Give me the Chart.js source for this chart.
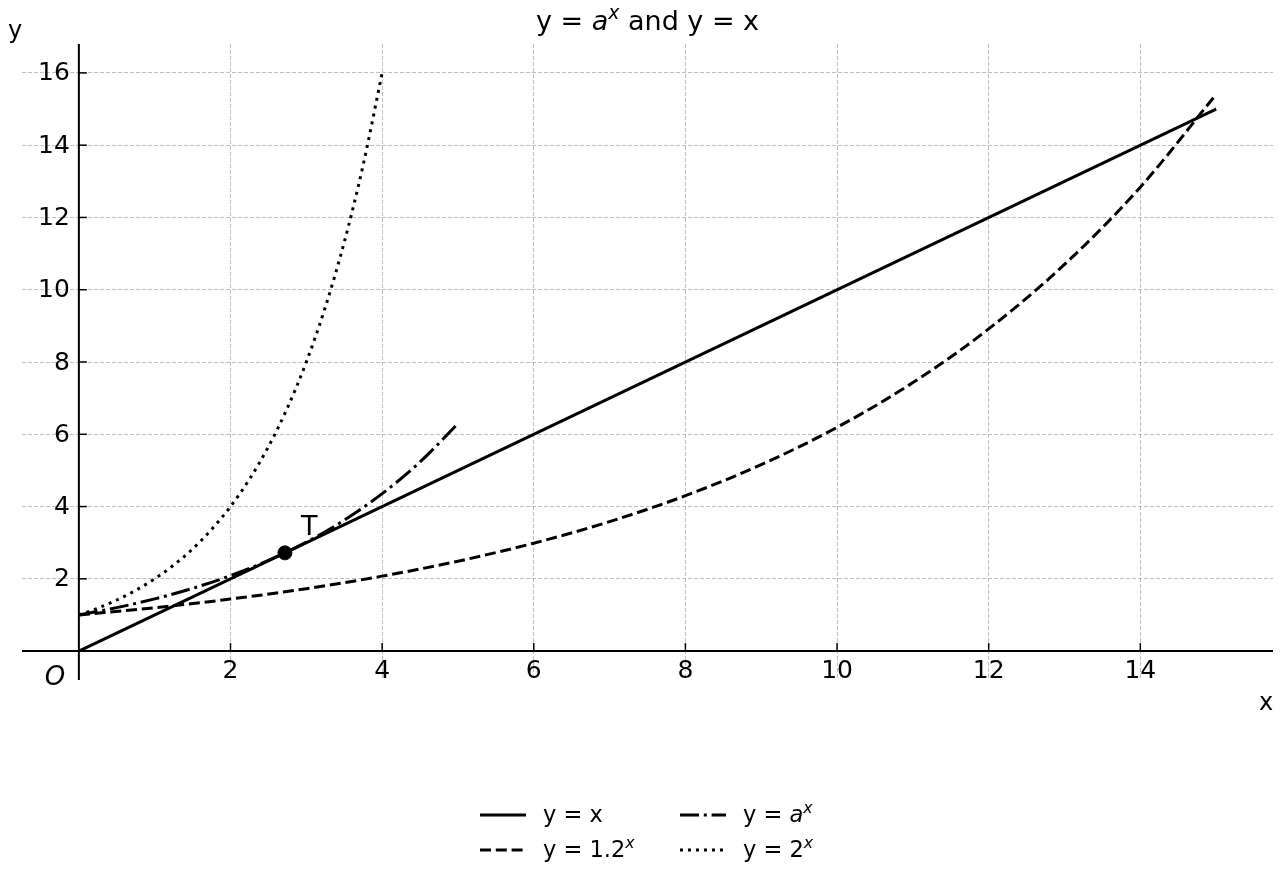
<!DOCTYPE html>
<html lang="en">
<head>
<meta charset="UTF-8">
<title>y = a^x and y = x</title>
<script src="https://cdn.jsdelivr.net/npm/chart.js@4.4.0/dist/chart.umd.min.js"></script>
<style>
  html, body { margin: 0; padding: 0; background: #fff; }
  canvas { display: block; }
</style>
</head>
<body>
<canvas id="chart" width="1280" height="880"></canvas>
<script>
// data
const lineX = [0, 15];
const lineY = [0, 15];

const pow12X = [0, 1, 2, 3, 4, 5, 6, 7, 8, 9, 10, 11, 12, 13, 14, 15];
const pow12Y = [1, 1.2, 1.44, 1.728, 2.074, 2.488, 2.986, 3.583, 4.3, 5.16, 6.192, 7.43, 8.916, 10.699, 12.839, 15.407];

const powAX = [0, 0.5, 1, 1.5, 2, 2.5, 3, 3.5, 4, 4.5, 5];
const powAY = [1, 1.202, 1.445, 1.736, 2.087, 2.508, 3.015, 3.624, 4.356, 5.236, 6.293];

const pow2X = [0, 0.25, 0.5, 0.75, 1, 1.25, 1.5, 1.75, 2, 2.25, 2.5, 2.75, 3, 3.25, 3.5, 3.75, 4];
const pow2Y = [1, 1.189, 1.414, 1.682, 2, 2.378, 2.828, 3.364, 4, 4.757, 5.657, 6.727, 8, 9.514, 11.314, 13.454, 16];

const pointT = [2.718, 2.718];
const labelT = [3.04, 3.4];

const xTicks = [2, 4, 6, 8, 10, 12, 14];
const yTicks = [2, 4, 6, 8, 10, 12, 14, 16];
const xLimits = [-0.75, 15.75];
const yLimits = [-0.8, 16.8];

// label pieces: [text, italic, superscript]
const titleParts = [['y = ', false, false], ['a', true, false], ['x', true, true], [' and y = x', false, false]];
const legendParts = [
  [['y = x', false, false]],
  [['y = 1.2', false, false], ['x', true, true]],
  [['y = ', false, false], ['a', true, false], ['x', true, true]],
  [['y = 2', false, false], ['x', true, true]]
];

const FONT = '"DejaVu Sans", sans-serif';

function pts(xs, ys) {
  return xs.map((x, i) => ({ x: x, y: ys[i] }));
}

function partsWidth(ctx, parts, size) {
  let w = 0;
  parts.forEach(p => {
    const s = p[2] ? size * 0.7 : size;
    ctx.font = (p[1] ? 'oblique ' : '') + s + 'px ' + FONT;
    w += ctx.measureText(p[0]).width;
  });
  return w;
}

function drawParts(ctx, parts, x, y, size) {
  ctx.textAlign = 'left';
  ctx.textBaseline = 'alphabetic';
  parts.forEach(p => {
    const s = p[2] ? size * 0.7 : size;
    ctx.font = (p[1] ? 'oblique ' : '') + s + 'px ' + FONT;
    const dy = p[2] ? -size * 0.42 : 0;
    ctx.fillText(p[0], x, y + dy);
    x += ctx.measureText(p[0]).width;
  });
}

const lineStyle = {
  fill: false,
  pointRadius: 0,
  showLine: true,
  borderColor: '#000',
  borderWidth: 3,
  cubicInterpolationMode: 'monotone',
  borderCapStyle: 'butt'
};

const dashes = [[], [11, 4.8], [19, 4.8, 3, 4.8], [3, 5]];

const decor = {
  id: 'decor',
  afterDraw(chart) {
    const ctx = chart.ctx;
    const xs = chart.scales.x, ys = chart.scales.y;
    const area = chart.chartArea;
    const x0 = xs.getPixelForValue(0), y0 = ys.getPixelForValue(0);
    ctx.save();
    ctx.strokeStyle = '#000';
    ctx.fillStyle = '#000';
    ctx.setLineDash([]);

    // spines through the origin
    ctx.lineWidth = 2;
    ctx.beginPath();
    ctx.moveTo(area.left, y0); ctx.lineTo(area.right, y0);
    ctx.moveTo(x0, area.top); ctx.lineTo(x0, area.bottom);
    ctx.stroke();

    // ticks (inward) and labels
    ctx.lineWidth = 1.5;
    ctx.font = '25px ' + FONT;
    ctx.textAlign = 'center';
    ctx.textBaseline = 'top';
    xTicks.forEach(v => {
      const px = xs.getPixelForValue(v);
      ctx.beginPath(); ctx.moveTo(px, y0); ctx.lineTo(px, y0 - 8); ctx.stroke();
      ctx.fillText(String(v), px, y0 + 8);
    });
    ctx.textAlign = 'right';
    ctx.textBaseline = 'middle';
    yTicks.forEach(v => {
      const py = ys.getPixelForValue(v);
      ctx.beginPath(); ctx.moveTo(x0, py); ctx.lineTo(x0 + 8, py); ctx.stroke();
      ctx.fillText(String(v), x0 - 9, py + 1);
    });

    // origin, axis names, point label
    ctx.textBaseline = 'alphabetic';
    ctx.textAlign = 'center';
    ctx.font = 'oblique 26px ' + FONT;
    ctx.fillText('O', x0 - 24, y0 + 34);
    ctx.font = '24px ' + FONT;
    ctx.fillText('y', 15, 38);
    ctx.fillText('x', 1266, 710);
    ctx.font = '27px ' + FONT;
    ctx.textBaseline = 'middle';
    ctx.fillText('T', xs.getPixelForValue(labelT[0]), ys.getPixelForValue(labelT[1]));

    // title
    const mid = (area.left + area.right) / 2;
    const tw = partsWidth(ctx, titleParts, 27);
    drawParts(ctx, titleParts, mid - tw / 2, 30, 27);

    // legend, two columns
    const cols = [480, 680];
    const rows = [815, 850];
    const order = [[0, 0], [0, 1], [1, 0], [1, 1]];
    order.forEach((cr, i) => {
      const lx = cols[cr[0]], ly = rows[cr[1]];
      ctx.lineWidth = 3;
      ctx.setLineDash(dashes[i]);
      ctx.beginPath(); ctx.moveTo(lx, ly); ctx.lineTo(lx + 46, ly); ctx.stroke();
      ctx.setLineDash([]);
      drawParts(ctx, legendParts[i], lx + 63, ly + 7, 22.5);
    });
    ctx.restore();
  }
};

new Chart(document.getElementById('chart'), {
  type: 'scatter',
  data: {
    datasets: [
      Object.assign({ label: 'y = x', data: pts(lineX, lineY), borderDash: dashes[0] }, lineStyle),
      Object.assign({ label: 'y = 1.2^x', data: pts(pow12X, pow12Y), borderDash: dashes[1] }, lineStyle),
      Object.assign({ label: 'y = a^x', data: pts(powAX, powAY), borderDash: dashes[2] }, lineStyle),
      Object.assign({ label: 'y = 2^x', data: pts(pow2X, pow2Y), borderDash: dashes[3] }, lineStyle),
      {
        label: 'T',
        data: [{ x: pointT[0], y: pointT[1] }],
        showLine: false,
        pointRadius: 7,
        pointBackgroundColor: '#000',
        pointBorderColor: '#000'
      }
    ]
  },
  options: {
    responsive: false,
    animation: false,
    layout: { autoPadding: false, padding: { left: 22, right: 7, top: 44, bottom: 200 } },
    plugins: { legend: { display: false }, title: { display: false }, tooltip: { enabled: false } },
    scales: {
      x: {
        type: 'linear',
        min: xLimits[0],
        max: xLimits[1],
        afterBuildTicks: s => { s.ticks = xTicks.map(v => ({ value: v })); },
        ticks: { display: false },
        grid: { color: '#b0b0b0', lineWidth: 0.8, drawTicks: false },
        border: { display: false, dash: [4, 2] }
      },
      y: {
        type: 'linear',
        min: yLimits[0],
        max: yLimits[1],
        afterBuildTicks: s => { s.ticks = yTicks.map(v => ({ value: v })); },
        ticks: { display: false },
        grid: { color: '#b0b0b0', lineWidth: 0.8, drawTicks: false },
        border: { display: false, dash: [4, 2] }
      }
    }
  },
  plugins: [decor]
});
</script>
</body>
</html>
